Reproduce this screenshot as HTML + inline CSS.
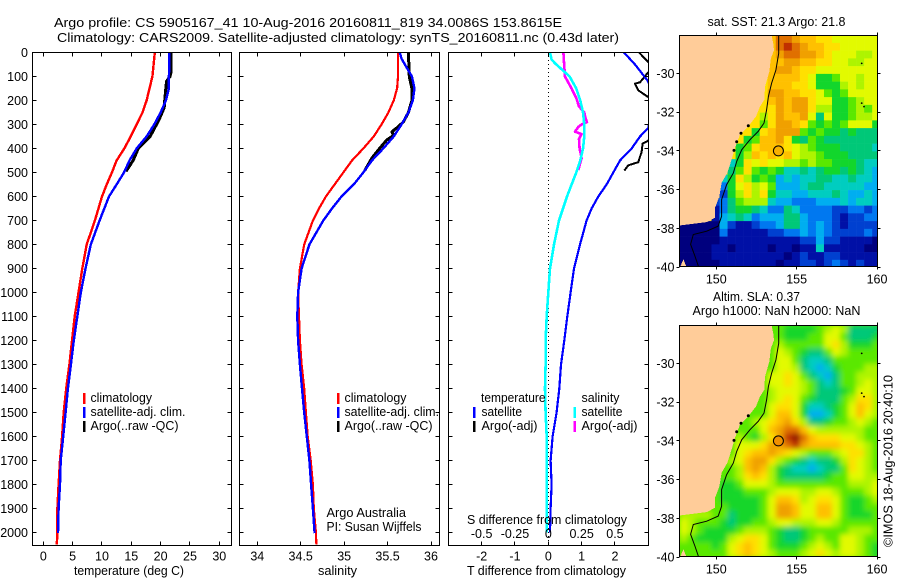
<!DOCTYPE html>
<html lang="en">
<head>
<meta charset="utf-8">
<title>Argo profile</title>
<style>
html,body{margin:0;padding:0;background:#fff;}
svg{display:block;}
text{font-family:"Liberation Sans",sans-serif;font-size:12.5px;fill:#000;}
</style>
</head>
<body>
<svg id="chart" xmlns="http://www.w3.org/2000/svg" width="900" height="580" viewBox="0 0 900 580">
  <defs>
    <clipPath id="clipT"><rect x="32" y="52" width="200" height="494"/></clipPath>
    <clipPath id="clipS"><rect x="239" y="52" width="201" height="494"/></clipPath>
    <clipPath id="clipD"><rect x="448" y="52" width="201" height="494"/></clipPath>
    <clipPath id="clipM1"><rect x="679" y="35" width="199" height="232"/></clipPath>
    <clipPath id="clipM2"><rect x="679" y="325" width="199" height="232"/></clipPath>
    <filter id="smooth" x="660" y="305" width="240" height="270" filterUnits="userSpaceOnUse"><feGaussianBlur stdDeviation="2.6"/></filter>
  </defs>
  <rect width="900" height="580" fill="#fff"/>

  <text x="54" y="27" textLength="508" lengthAdjust="spacingAndGlyphs" style="font-size:13px">Argo profile: CS 5905167_41 10-Aug-2016 20160811_819 34.0086S 153.8615E</text>
  <text x="57" y="42" textLength="562" lengthAdjust="spacingAndGlyphs" style="font-size:13px">Climatology: CARS2009. Satellite-adjusted climatology: synTS_20160811.nc (0.43d later)</text>

  <g id="marksT" clip-path="url(#clipT)"></g>
  <g id="marksS" clip-path="url(#clipS)"></g>
  <line x1="548.5" y1="52" x2="548.5" y2="545" stroke="#000" stroke-width="1" stroke-dasharray="1 3"/>
  <g id="marksD" clip-path="url(#clipD)"></g>

  <g id="axes"></g>
  <rect x="32.5" y="52.5" width="199" height="493" fill="none" stroke="#000"/>
  <rect x="239.5" y="52.5" width="200" height="493" fill="none" stroke="#000"/>
  <rect x="448.5" y="52.5" width="200" height="493" fill="none" stroke="#000"/>

  <text x="74" y="575" textLength="110" lengthAdjust="spacingAndGlyphs">temperature (deg C)</text>
  <text x="318" y="575" textLength="39" lengthAdjust="spacingAndGlyphs">salinity</text>
  <text x="467" y="575" textLength="159" lengthAdjust="spacingAndGlyphs">T difference from climatology</text>
  <text x="467" y="524" textLength="160" lengthAdjust="spacingAndGlyphs">S difference from climatology</text>

  <g>
    <rect x="83" y="393" width="2.5" height="11" fill="#f00"/>
    <rect x="83" y="407" width="2.5" height="11" fill="#00f"/>
    <rect x="83" y="421" width="2.5" height="11" fill="#000"/>
    <text x="90.5" y="402" textLength="61.5" lengthAdjust="spacingAndGlyphs">climatology</text>
    <text x="90.5" y="416" textLength="95" lengthAdjust="spacingAndGlyphs">satellite-adj. clim.</text>
    <text x="90.5" y="430" textLength="88" lengthAdjust="spacingAndGlyphs">Argo(..raw -QC)</text>
  </g>
  <g>
    <rect x="337" y="393" width="2.5" height="11" fill="#f00"/>
    <rect x="337" y="407" width="2.5" height="11" fill="#00f"/>
    <rect x="337" y="421" width="2.5" height="11" fill="#000"/>
    <text x="344.5" y="402" textLength="62" lengthAdjust="spacingAndGlyphs">climatology</text>
    <text x="344.5" y="416" textLength="94.5" lengthAdjust="spacingAndGlyphs">satellite-adj. clim.</text>
    <text x="344.5" y="430" textLength="88" lengthAdjust="spacingAndGlyphs">Argo(..raw -QC)</text>
    <text x="326.5" y="517" textLength="79.5" lengthAdjust="spacingAndGlyphs">Argo Australia</text>
    <text x="326.5" y="531" textLength="95" lengthAdjust="spacingAndGlyphs">PI: Susan Wijffels</text>
  </g>
  <g>
    <text x="481" y="402" textLength="64.5" lengthAdjust="spacingAndGlyphs">temperature</text>
    <text x="581.5" y="402" textLength="38" lengthAdjust="spacingAndGlyphs">salinity</text>
    <rect x="473" y="407" width="2.5" height="11" fill="#00f"/>
    <rect x="473" y="421" width="2.5" height="11" fill="#000"/>
    <rect x="573.5" y="407" width="2.5" height="11" fill="#0ff"/>
    <rect x="573.5" y="421" width="2.5" height="11" fill="#f0f"/>
    <text x="481.5" y="416" textLength="40.5" lengthAdjust="spacingAndGlyphs">satellite</text>
    <text x="481.5" y="430" textLength="56" lengthAdjust="spacingAndGlyphs">Argo(-adj)</text>
    <text x="581.5" y="416" textLength="41" lengthAdjust="spacingAndGlyphs">satellite</text>
    <text x="581.5" y="430" textLength="56" lengthAdjust="spacingAndGlyphs">Argo(-adj)</text>
  </g>

  <text x="707.5" y="26" textLength="138" lengthAdjust="spacingAndGlyphs">sat. SST: 21.3 Argo: 21.8</text>
  <text x="713" y="301" textLength="87" lengthAdjust="spacingAndGlyphs">Altim. SLA: 0.37</text>
  <text x="692.5" y="315" textLength="168" lengthAdjust="spacingAndGlyphs">Argo h1000: NaN h2000: NaN</text>

  <g id="mapSst" clip-path="url(#clipM1)"></g>
  <g id="mapSla" clip-path="url(#clipM2)"></g>
  <g id="mapAxes"></g>
  <rect x="679.5" y="35.5" width="198" height="231" fill="none" stroke="#000"/>
  <rect x="679.5" y="325.5" width="198" height="231" fill="none" stroke="#000"/>

  <text transform="translate(892.5 547) rotate(-90)" textLength="172" lengthAdjust="spacingAndGlyphs">©IMOS 18-Aug-2016 20:40:10</text>
</svg>

<script>
// ---------- profile data ----------
const tempTicks = [0, 5, 10, 15, 20, 25, 30];
const salTicks = [34, 34.5, 35, 35.5, 36];
const salTickLabels = ['34', '34.5', '35', '35.5', '36'];
const diffTTicks = [-2, -1, 0, 1, 2];
const diffSTicks = [-0.5, -0.25, 0, 0.25, 0.5];
const diffSTickLabels = ['-0.5', '-0.25', '0', '0.25', '0.5'];
const depthTicks = [0, 100, 200, 300, 400, 500, 600, 700, 800, 900, 1000, 1100, 1200, 1300, 1400, 1500, 1600, 1700, 1800, 1900, 2000];

const climDepth = [0, 100, 200, 250, 300, 350, 400, 450, 500, 550, 600, 700, 800, 900, 1000, 1100, 1200, 1300, 1400, 1500, 1600, 1700, 1800, 1900, 2000, 2050];
const climTemp = [19.0, 18.6, 17.6, 16.9, 15.9, 14.9, 13.8, 12.5, 11.7, 10.8, 10.0, 8.8, 7.4, 6.65, 6.0, 5.35, 4.9, 4.45, 3.9, 3.47, 3.2, 2.85, 2.6, 2.4, 2.4, 2.3];

const climSalDepth = [0, 100, 150, 200, 250, 300, 350, 400, 450, 500, 550, 600, 650, 700, 800, 900, 1000, 1100, 1200, 1300, 1400, 1500, 1600, 1700, 1800, 1900, 2000, 2050];
const climSal = [35.62, 35.62, 35.61, 35.57, 35.51, 35.43, 35.34, 35.22, 35.09, 34.99, 34.89, 34.79, 34.71, 34.64, 34.54, 34.49, 34.47, 34.48, 34.49, 34.51, 34.54, 34.56, 34.58, 34.615, 34.64, 34.65, 34.675, 34.68];

const satDepth = [0, 50, 100, 150, 200, 250, 300, 350, 400, 450, 500, 550, 600, 700, 800, 900, 1000, 1100, 1200, 1300, 1400, 1500, 1600, 1700, 1800, 1900, 2003];
const satTemp = [21.5, 21.5, 21.4, 21.4, 20.9, 20.0, 18.9, 17.6, 15.9, 14.7, 13.75, 12.5, 11.2, 9.6, 8.1, 7.2, 6.4, 5.8, 5.2, 4.7, 4.2, 3.8, 3.4, 2.96, 2.85, 2.6, 2.5];

const satSalDepth = [0, 25, 50, 100, 150, 200, 250, 300, 350, 400, 450, 500, 550, 600, 650, 700, 800, 900, 1000, 1100, 1200, 1300, 1400, 1500, 1600, 1700, 1800, 1900, 2003];
const satSal = [35.64, 35.66, 35.70, 35.78, 35.81, 35.79, 35.74, 35.66, 35.57, 35.45, 35.32, 35.22, 35.11, 34.97, 34.86, 34.76, 34.60, 34.51, 34.47, 34.46, 34.47, 34.49, 34.515, 34.54, 34.57, 34.60, 34.62, 34.64, 34.66];

const argoTempDepth = [0, 80, 100, 120, 200, 230, 270, 300, 350, 400, 450, 495];
const argoTemp = [21.8, 21.8, 21.6, 21.0, 20.7, 20.6, 19.9, 19.3, 18.2, 16.2, 15.3, 14.1];
const argoSalDepth = [0, 100, 150, 200, 250, 290, 310, 330, 345, 365, 390, 440, 490];
const argoSal = [35.74, 35.75, 35.78, 35.78, 35.74, 35.68, 35.62, 35.55, 35.57, 35.49, 35.43, 35.32, 35.24];

const dTSatDepth = [0, 50, 117, 150, 200, 250, 314, 350, 400, 450, 500, 550, 600, 650, 700, 800, 900, 1000, 1100, 1200, 1300, 1400, 1500, 1600, 1700, 1800, 1900, 2000];
const dTSat = [2.27, 2.6, 2.98, 3.1, 3.3, 3.1, 3.0, 2.75, 2.5, 2.15, 1.95, 1.75, 1.5, 1.3, 1.15, 0.95, 0.77, 0.67, 0.57, 0.48, 0.38, 0.33, 0.25, 0.13, 0.07, 0.1, 0.07, 0.05];
const dTArgoDepth = [0, 40, 60, 82, 124, 130, 158, 186, 230, 300, 367, 380, 415, 443, 457, 470, 492];
const dTArgo = [2.72, 3.0, 3.2, 3.0, 2.75, 2.6, 2.7, 3.0, 3.2, 3.2, 3.0, 2.83, 2.8, 2.73, 2.7, 2.4, 2.28];

const dSSatDepth = [0, 30, 50, 75, 100, 150, 200, 250, 300, 350, 400, 450, 500, 550, 600, 700, 800, 900, 1000, 1100, 1200, 1300, 1400, 1500, 1600, 1700, 1800, 1900, 2000];
const dSSat = [0.013, 0.025, 0.06, 0.11, 0.16, 0.21, 0.24, 0.26, 0.27, 0.27, 0.26, 0.24, 0.21, 0.175, 0.14, 0.08, 0.043, 0.013, 0, -0.012, -0.02, -0.02, -0.025, -0.02, -0.012, -0.012, -0.012, -0.012, -0.012];
const dSArgoDepth = [0, 60, 100, 125, 150, 190, 225, 250, 275, 290, 300, 310, 330, 340, 360, 400, 440, 490];
const dSArgo = [0.113, 0.12, 0.125, 0.15, 0.175, 0.21, 0.23, 0.27, 0.28, 0.29, 0.25, 0.225, 0.2, 0.25, 0.23, 0.235, 0.25, 0.225];

// ---------- map data: one character per 0.5 x 0.4 degree cell, colour level 0..g ----------
const sstRows = [
"bbbbbbbbbbbceedccbbaaaaaa",
"bbbbbbbbbbbcefedccbbaaaaa",
"bbbbbbbbbbbcdeeddcbaaa99a",
"bbbbbbbbbbbccddccbbaa99aa",
"bbbbbbbbbbbcddcbbaaaaaaaa",
"bbbbbbbbbbbccccba778aa9aa",
"bbbbbbbbbbbcccbba7779a9aa",
"bbbbbbbbbbbddccbba878aaaa",
"bbbbbbbbbbbcdcddbaa7789aa",
"bbbbbbbbbbbbdcddb9977898a",
"bbbbbbbbbb9bdccda6a77899a",
"bbbbbbbbbb8bddcb87878aaa7",
"bbbbbbbbb7bcddd8787767666",
"bbbbbbbb78ccdb76876666666",
"bbbbbbb78bcccba9877766665",
"bbbbbbb79cbcbca9987776666",
"bbbbbb57babaa998988777655",
"bbbbbb68b8787556567767654",
"bbbbb57b97874545566556554",
"bbbbb37ab9a84445665555544",
"bbbbb279b9b75544555654454",
"bbbb236899954433344454554",
"bbbb136776533653333223323",
"bbbb145653444664333212233",
"0000042112334664343212222",
"0000031111122334343222232",
"0000011111111112242211110",
"0000110111101101151111100",
"0000111111111012112211111",
"0000011111110112212321211"
];
const slaRows = [
"8888888888888777789a96666",
"888888888888877788aa86667",
"888888888888988888ab97778",
"888888888888a987668a98888",
"888888888888aa86556888888",
"888888888888aa96545788899",
"88888888888aaba8654688999",
"88888888888aaba98656889a9",
"888888888889aaa9866678aa9",
"888888888889aba8766689bb9",
"88888888888abba755678acb9",
"88888888888acca744578aca9",
"8888888889abcdb9667889a98",
"8888888888acdeeca99999988",
"88888889879bdfgecbbbaa988",
"8888888aaabddefdccccbba98",
"8888888abccdcba98889abb98",
"8888889acddb987656679ba98",
"88888889cdc9765545668ba98",
"88888889bcb9766666788aa99",
"88888778aaa9888888888999a",
"888887778889aaa99aa98889a",
"88888777778accb9abba87789",
"88888877778addcaacca87788",
"99998867778addcaacca87778",
"a98887677889aa999aa988888",
"a987777899987667888889998",
"9877779abba876678988aa988",
"888878abcba877789a98aa987",
"888888abcba98889aba9aa987"
];
const coastLon = [147.7, 153.44, 153.55, 153.59, 153.40, 153.30, 153.03, 152.99, 152.72, 152.47, 151.99, 151.47, 151.16, 150.95, 150.68, 150.33, 150.19, 149.92, 149.92, 149.40, 147.7];
const coastLat = [-28.03, -28.03, -28.46, -28.8, -29.23, -29.91, -30.69, -31.37, -31.72, -32.23, -32.74, -33.17, -33.86, -34.46, -35.15, -35.66, -36.35, -36.95, -37.46, -37.68, -37.86];
const tasLon = [147.7, 147.95, 148.2];
const tasLat = [-40.1, -39.6, -40.1];
const isobathLon = [153.88, 153.88, 153.71, 153.44, 153.24, 153.13, 152.97, 152.61, 152.10, 151.58, 151.27, 151.06, 150.64, 150.33, 150.33, 150.12, 149.40, 148.57, 148.40, 148.67, 148.88];
const isobathLat = [-28.03, -28.97, -29.83, -30.51, -31.20, -31.89, -32.57, -33.0, -33.43, -33.95, -34.55, -35.15, -35.75, -36.52, -37.38, -37.89, -38.15, -38.32, -38.83, -39.43, -39.95];
const speckLon = [151.99, 151.54, 151.27, 151.1, 159.05, 159.05, 159.19];
const speckLat = [-32.71, -33.09, -33.53, -33.98, -29.49, -31.54, -31.72];
const lonTicks = [150, 155, 160];
const latTicks = [-30, -32, -34, -36, -38, -40];
const argoLon = 153.8615;
const argoLat = -34.0086;

// ---------- axis functions ----------
const yDepth = d => 52.5 + d * 0.24;
const xTemp = t => 43.3 + t * 5.867;
const xSal = s => 257.3 + (s - 34) * 86.85;
const xDT = v => 548.3 + v * 33.33;
const xDS = v => 548.3 + v * 133.3;
const xLon = lon => 716.3 + (lon - 150) * 16.07;
const yLat1 = lat => 73.3 + (-30 - lat) * 19.37;
const yLat2 = lat => 363.3 + (-30 - lat) * 19.37;

const NS = 'http://www.w3.org/2000/svg';
const mk = (tag, parent) => { const e = document.createElementNS(NS, tag); parent.appendChild(e); return e; };
const levelColors = ['#00007e','#0010a6','#0040d0','#0078f0','#00aef0','#00cdc0','#00c878','#12d62c','#5ae800','#aef400','#e2fa00','#ffe000','#ffc000','#f0a000','#e07000','#c03000','#901000'];

function drawProfile(parent, xFn, depths, values, color, width) {
  const p = mk('polyline', parent);
  
  
  p.setAttribute('points', depths.map((d, i) => xFn(values[i]).toFixed(1) + ',' + yDepth(d).toFixed(1)).join(' '));
  p.setAttribute('fill', 'none');
  p.setAttribute('stroke', color);
  p.setAttribute('stroke-width', width);
  p.setAttribute('stroke-linejoin', 'round');
  p.setAttribute('shape-rendering', 'crispEdges');
}
const gT = document.getElementById('marksT');
drawProfile(gT, xTemp, argoTempDepth, argoTemp, '#000', 3);
drawProfile(gT, xTemp, climDepth, climTemp, '#f00', 2.4);
drawProfile(gT, xTemp, satDepth, satTemp, '#00f', 2.4);
const gS = document.getElementById('marksS');
drawProfile(gS, xSal, argoSalDepth, argoSal, '#000', 3);
drawProfile(gS, xSal, climSalDepth, climSal, '#f00', 2.2);
drawProfile(gS, xSal, satSalDepth, satSal, '#00f', 2.4);
const gD = document.getElementById('marksD');
drawProfile(gD, xDT, dTArgoDepth, dTArgo, '#000', 2);
drawProfile(gD, xDT, dTSatDepth, dTSat, '#00f', 2.2);
drawProfile(gD, xDS, dSArgoDepth, dSArgo, '#f0f', 2.6);
drawProfile(gD, xDS, dSSatDepth, dSSat, '#0ff', 2.6);

// ---------- axes ----------
const axes = document.getElementById('axes');
function tick(parent, x1, y1, x2, y2) {
  const l = mk('line', parent);
  
  
  l.setAttribute('x1', x1); l.setAttribute('y1', y1);
  l.setAttribute('x2', x2); l.setAttribute('y2', y2);
  l.setAttribute('stroke', '#000');
  l.setAttribute('shape-rendering', 'crispEdges');
}
function label(parent, str, x, y, anchor) {
  const t = mk('text', parent);
  
  
  t.setAttribute('x', x); t.setAttribute('y', y);
  t.setAttribute('text-anchor', anchor);
  t.textContent = str;
}
const panels = [[32.5, 231.5], [239.5, 439.5], [448.5, 648.5]];
panels.forEach(p => depthTicks.forEach(d => {
  const y = Math.round(yDepth(d) - 0.5) + 0.5;
  tick(axes, p[0], y, p[0] + 4, y);
  tick(axes, p[1], y, p[1] - 4, y);
}));
depthTicks.forEach(d => label(axes, String(d), 28, yDepth(d) + 4.5, 'end'));
function xTicks(values, xFn) {
  values.forEach(v => {
    const x = Math.round(xFn(v) - 0.5) + 0.5;
    tick(axes, x, 52.5, x, 56.5);
    tick(axes, x, 545.5, x, 541.5);
  });
}
xTicks(tempTicks, xTemp);
xTicks(salTicks, xSal);
xTicks(diffTTicks, xDT);
tempTicks.forEach(v => label(axes, String(v), xTemp(v), 560.5, 'middle'));
salTicks.forEach((v, i) => label(axes, salTickLabels[i], xSal(v), 560.5, 'middle'));
diffTTicks.forEach(v => label(axes, String(v), xDT(v), 560.5, 'middle'));
diffSTicks.forEach((v, i) => label(axes, diffSTickLabels[i], xDS(v), 538, 'middle'));

// ---------- maps ----------
function poly(parent, lons, lats, yFn, fill, stroke) {
  const p = mk('polygon', parent);
  
  
  p.setAttribute('points', lons.map((v, i) => xLon(v).toFixed(1) + ',' + yFn(lats[i]).toFixed(1)).join(' '));
  p.setAttribute('fill', fill);
  p.setAttribute('stroke', stroke);
  p.setAttribute('shape-rendering', 'crispEdges');
}
function drawCells(parent, rows, yFn) {
  rows.forEach((row, r) => {
    for (let c = 0; c < row.length; c++) {
      const lon = 147.7 + c * 0.5;
      const lat = -28.03 - r * 0.4;
      const cell = mk('rect', parent);
      
      
      cell.setAttribute('x', xLon(lon).toFixed(2));
      cell.setAttribute('y', yFn(lat).toFixed(2));
      cell.setAttribute('width', (xLon(lon + 0.5) - xLon(lon) + 0.3).toFixed(2));
      cell.setAttribute('height', (yFn(lat - 0.4) - yFn(lat) + 0.3).toFixed(2));
      cell.setAttribute('fill', levelColors[parseInt(row[c], 17)]);
    }
  });
}
function drawMapOverlay(parent, yFn, markerFill) {
  poly(parent, coastLon, coastLat, yFn, '#ffcc99', 'none');
  poly(parent, tasLon, tasLat, yFn, '#ffcc99', 'none');
  const iso = mk('polyline', parent);
  
  
  iso.setAttribute('points', isobathLon.map((v, i) => xLon(v).toFixed(1) + ',' + yFn(isobathLat[i]).toFixed(1)).join(' '));
  iso.setAttribute('fill', 'none');
  iso.setAttribute('stroke', '#000');
  iso.setAttribute('stroke-width', '1');
  speckLon.forEach((v, i) => {
    const s = mk('circle', parent);
    
    
    s.setAttribute('cx', xLon(v).toFixed(1));
    s.setAttribute('cy', yFn(speckLat[i]).toFixed(1));
    s.setAttribute('r', i < 4 ? 1.5 : 0.9);
    s.setAttribute('fill', '#000');
  });
  const m = mk('circle', parent);
  
  
  m.setAttribute('cx', xLon(argoLon).toFixed(1));
  m.setAttribute('cy', yFn(argoLat).toFixed(1));
  m.setAttribute('r', 5);
  m.setAttribute('fill', markerFill);
  m.setAttribute('stroke', '#000');
}
const gSst = document.getElementById('mapSst');
drawCells(gSst, sstRows, yLat1);
drawMapOverlay(gSst, yLat1, '#f8b000');
const gSla = document.getElementById('mapSla');
const slaBack = mk('rect', gSla);


slaBack.setAttribute('x', 679); slaBack.setAttribute('y', 325);
slaBack.setAttribute('width', 199); slaBack.setAttribute('height', 232);
slaBack.setAttribute('fill', levelColors[8]);
const slaCells = mk('g', gSla);


slaCells.setAttribute('filter', 'url(#smooth)');
drawCells(slaCells, slaRows, yLat2);
drawMapOverlay(gSla, yLat2, '#f09000');

const mapAxes = document.getElementById('mapAxes');
[[35.5, 266.5, yLat1], [325.5, 556.5, yLat2]].forEach(b => {
  lonTicks.forEach(v => {
    const x = Math.round(xLon(v) - 0.5) + 0.5;
    tick(mapAxes, x, b[0], x, b[0] - 3);
    tick(mapAxes, x, b[1], x, b[1] + 3);
    label(mapAxes, String(v), xLon(v), b[1] + 17, 'middle');
  });
  latTicks.forEach(v => {
    const y = Math.round(b[2](v) - 0.5) + 0.5;
    tick(mapAxes, 679.5, y, 676.5, y);
    tick(mapAxes, 877.5, y, 880.5, y);
    label(mapAxes, String(v), 674.5, b[2](v) + 4.5, 'end');
  });
});
</script>
</body>
</html>
